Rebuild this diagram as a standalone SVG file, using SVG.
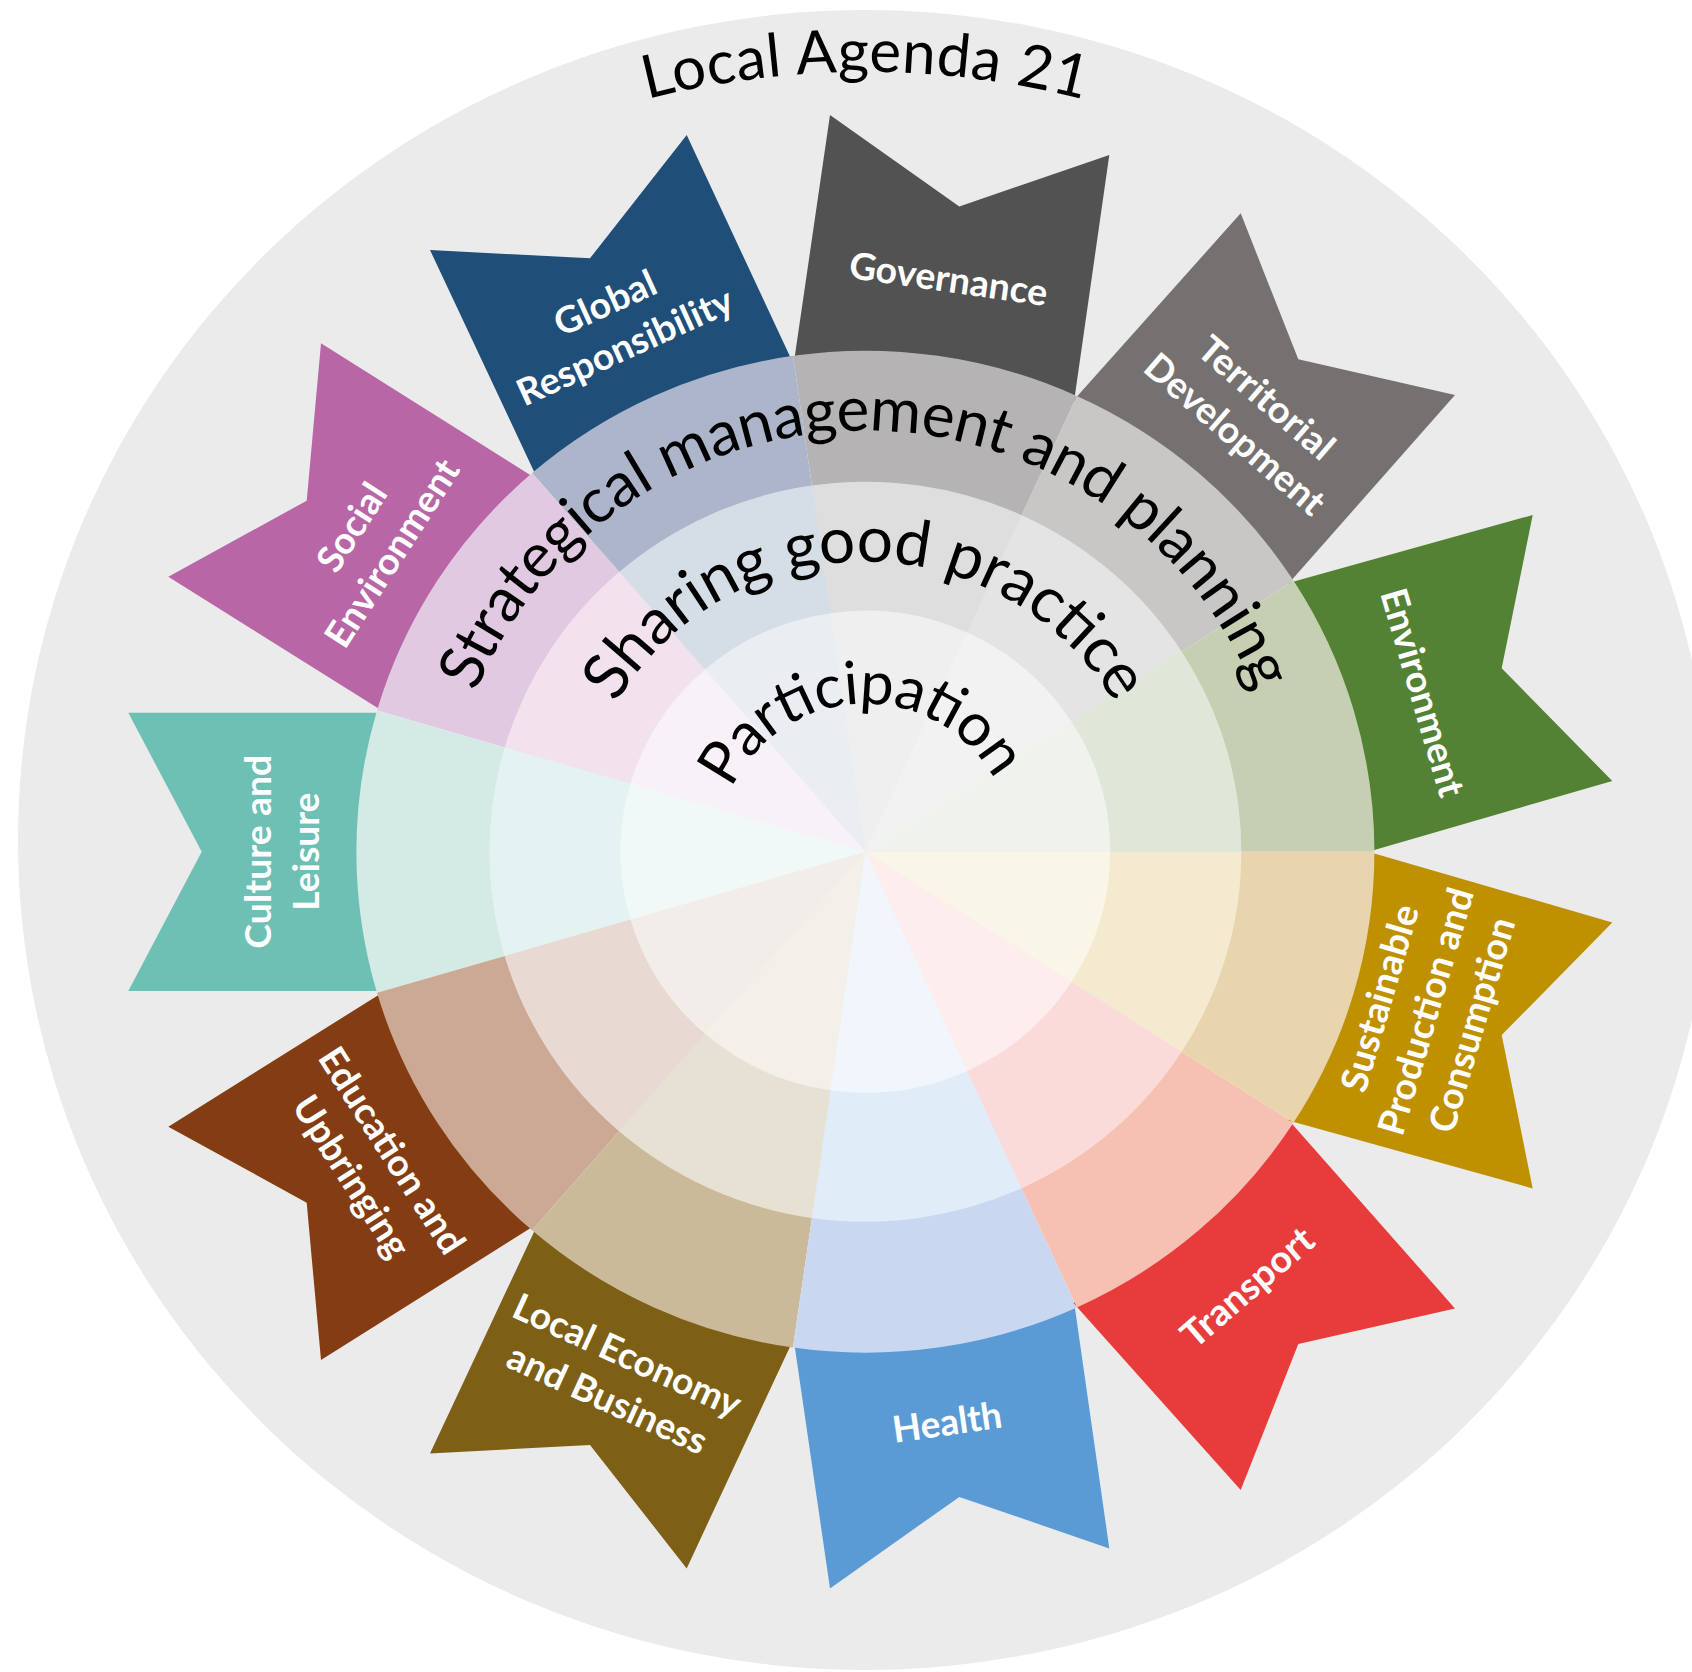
<svg xmlns="http://www.w3.org/2000/svg" width="1692" height="1672" viewBox="0 0 1692 1672">
<style>
.lbl{font-family:Lato,"Open Sans",sans-serif;font-weight:700;fill:#fff;font-size:37px;text-anchor:middle}
.ring{font-family:Lato,"Open Sans",sans-serif;fill:#000;text-anchor:middle}
.m{fill-opacity:.19}
.i{fill-opacity:.095}
</style>
<defs>
<path id="arcTitle" d="M -22.6,960 A 888,888 0 0 1 1753.4,960"/>
<path id="arcS" d="M 444.4,851.7 A 421,421 0 0 1 1286.4,851.7"/>
<path id="arcG" d="M 575.4,851.7 A 290,290 0 0 1 1155.4,851.7"/>
<path id="arcP" d="M 717.4,851.7 A 148,148 0 0 1 1013.4,851.7"/>
</defs>
<rect width="1692" height="1672" fill="#fff"/>
<g id="background">
<ellipse cx="865" cy="840" rx="847" ry="830" fill="#ebebeb"/>
<ellipse cx="865.4" cy="851.7" rx="509" ry="501" fill="#fff"/>
</g>
<g id="connectors"/>

<g id="environment">
<path d="M1532.7,515 L1501.7,668.3 L1612.3,781 L1369.2,851.4 A509,501 0 0 0 1288.5,583 Z" fill="#548235"/>
<g transform="translate(865.4 851.7) scale(1.016 1)">
<path d="M501,0 A501,501 0 0 0 421.47,-270.86 L311.26,-200.04 A370,370 0 0 1 370,0 Z" fill="#c5cfb2"/>
<path class="m" d="M370,0 A370,370 0 0 0 311.26,-200.04 L202.74,-130.29 A241,241 0 0 1 241,0 Z" fill="#548235"/>
<path class="i" d="M0,0 L241,0 A241,241 0 0 0 202.74,-130.29 Z" fill="#548235"/>
</g>
<g transform="translate(1421.7 692.7) rotate(73.64)"><text class="lbl" y="12" textLength="215" lengthAdjust="spacingAndGlyphs">Environment</text></g>
</g>

<g id="territorial-development">
<path d="M1240.7,213.3 L1298.3,359.3 L1455,395 L1288.4,583.7 A509,501 0 0 0 1073.4,400.4 Z" fill="#767171"/>
<g transform="translate(865.4 851.7) scale(1.016 1)">
<path d="M421.47,-270.86 A501,501 0 0 0 208.13,-455.72 L153.71,-336.56 A370,370 0 0 1 311.26,-200.04 Z" fill="#c8c7c6"/>
<path class="m" d="M311.26,-200.04 A370,370 0 0 0 153.71,-336.56 L100.12,-219.22 A241,241 0 0 1 202.74,-130.29 Z" fill="#767171"/>
<path class="i" d="M0,0 L202.74,-130.29 A241,241 0 0 0 100.12,-219.22 Z" fill="#767171"/>
</g>
<g transform="translate(1250 416.7) rotate(40.9)"><text class="lbl" y="-12" textLength="167" lengthAdjust="spacingAndGlyphs">Territorial</text><text class="lbl" y="36" textLength="225" lengthAdjust="spacingAndGlyphs">Development</text></g>
</g>

<g id="governance">
<path d="M830,115 L959.3,206.5 L1109.3,155 L1074.3,399.8 A509,501 0 0 0 794.3,359.8 Z" fill="#525252"/>
<g transform="translate(865.4 851.7) scale(1.016 1)">
<path d="M208.13,-455.72 A501,501 0 0 0 -71.3,-495.9 L-52.65,-366.23 A370,370 0 0 1 153.71,-336.56 Z" fill="#b5b3b3"/>
<path class="m" d="M153.71,-336.56 A370,370 0 0 0 -52.65,-366.23 L-34.3,-238.55 A241,241 0 0 1 100.12,-219.22 Z" fill="#525252"/>
<path class="i" d="M0,0 L100.12,-219.22 A241,241 0 0 0 -34.3,-238.55 Z" fill="#525252"/>
</g>
<g transform="translate(948.3 280) rotate(8.18)"><text class="lbl" y="12" textLength="200" lengthAdjust="spacingAndGlyphs">Governance</text></g>
</g>

<g id="global-responsibility">
<path d="M430,250 L590,258.3 L686.7,135 L792.1,361.1 A509,501 0 0 0 535.4,474.4 Z" fill="#1f4e79"/>
<g transform="translate(865.4 851.7) scale(1.016 1)">
<path d="M-71.3,-495.9 A501,501 0 0 0 -328.08,-378.63 L-242.3,-279.63 A370,370 0 0 1 -52.65,-366.23 Z" fill="#adb5cb"/>
<path class="m" d="M-52.65,-366.23 A370,370 0 0 0 -242.3,-279.63 L-157.82,-182.14 A241,241 0 0 1 -34.3,-238.55 Z" fill="#1f4e79"/>
<path class="i" d="M0,0 L-34.3,-238.55 A241,241 0 0 0 -157.82,-182.14 Z" fill="#1f4e79"/>
</g>
<g transform="translate(615.3 325.7) rotate(-24.55)"><text class="lbl" y="-12" textLength="108" lengthAdjust="spacingAndGlyphs">Global</text><text class="lbl" y="36" textLength="233" lengthAdjust="spacingAndGlyphs">Responsibility</text></g>
</g>

<g id="social-environment">
<path d="M168.3,576.7 L306.7,500.7 L321,343.3 L534.2,477.6 A509,501 0 0 0 382.5,710.9 Z" fill="#b866a6"/>
<g transform="translate(865.4 851.7) scale(1.016 1)">
<path d="M-328.08,-378.63 A501,501 0 0 0 -480.7,-141.15 L-355.01,-104.24 A370,370 0 0 1 -242.3,-279.63 Z" fill="#e2c9e2"/>
<path class="m" d="M-242.3,-279.63 A370,370 0 0 0 -355.01,-104.24 L-231.24,-67.9 A241,241 0 0 1 -157.82,-182.14 Z" fill="#b866a6"/>
<path class="i" d="M0,0 L-157.82,-182.14 A241,241 0 0 0 -231.24,-67.9 Z" fill="#b866a6"/>
</g>
<g transform="translate(372.7 540.7) rotate(-57.27)"><text class="lbl" y="-12" textLength="97" lengthAdjust="spacingAndGlyphs">Social</text><text class="lbl" y="36" textLength="215" lengthAdjust="spacingAndGlyphs">Environment</text></g>
</g>

<g id="culture-and-leisure">
<path d="M128.3,712.7 L201.7,851.7 L128.3,991 L381.5,991 A509,501 0 0 1 381.5,712.7 Z" fill="#6dc0b3"/>
<g transform="translate(865.4 851.7) scale(1.016 1)">
<path d="M-480.7,-141.15 A501,501 0 0 0 -480.7,141.15 L-355.01,104.24 A370,370 0 0 1 -355.01,-104.24 Z" fill="#d4ebe5"/>
<path class="m" d="M-355.01,-104.24 A370,370 0 0 0 -355.01,104.24 L-231.24,67.9 A241,241 0 0 1 -231.24,-67.9 Z" fill="#6dc0b3"/>
<path class="i" d="M0,0 L-231.24,-67.9 A241,241 0 0 0 -231.24,67.9 Z" fill="#6dc0b3"/>
</g>
<g transform="translate(282.5 851.7) rotate(-90)"><text class="lbl" y="-12" textLength="194" lengthAdjust="spacingAndGlyphs">Culture and</text><text class="lbl" y="36" textLength="118" lengthAdjust="spacingAndGlyphs">Leisure</text></g>
</g>

<g id="education-and-upbringing">
<path d="M168.3,1126.7 L306.7,1202.7 L321,1360.1 L534.2,1225.8 A509,501 0 0 1 382.5,992.5 Z" fill="#843c12"/>
<g transform="translate(865.4 851.7) scale(1.016 1)">
<path d="M-480.7,141.15 A501,501 0 0 0 -328.08,378.63 L-242.3,279.63 A370,370 0 0 1 -355.01,104.24 Z" fill="#cca994"/>
<path class="m" d="M-355.01,104.24 A370,370 0 0 0 -242.3,279.63 L-157.82,182.14 A241,241 0 0 1 -231.24,67.9 Z" fill="#843c12"/>
<path class="i" d="M0,0 L-231.24,67.9 A241,241 0 0 0 -157.82,182.14 Z" fill="#843c12"/>
</g>
<g transform="translate(371 1164) rotate(57.27)"><text class="lbl" y="-12" textLength="237" lengthAdjust="spacingAndGlyphs">Education and</text><text class="lbl" y="36" textLength="184" lengthAdjust="spacingAndGlyphs">Upbringing</text></g>
</g>

<g id="local-economy-and-business">
<path d="M430,1453.4 L590,1445.1 L686.7,1568.4 L792.1,1342.3 A509,501 0 0 1 535.4,1229 Z" fill="#7d5f16"/>
<g transform="translate(865.4 851.7) scale(1.016 1)">
<path d="M-328.08,378.63 A501,501 0 0 0 -71.3,495.9 L-52.65,366.23 A370,370 0 0 1 -242.3,279.63 Z" fill="#cbba99"/>
<path class="m" d="M-242.3,279.63 A370,370 0 0 0 -52.65,366.23 L-34.3,238.55 A241,241 0 0 1 -157.82,182.14 Z" fill="#7d5f16"/>
<path class="i" d="M0,0 L-157.82,182.14 A241,241 0 0 0 -34.3,238.55 Z" fill="#7d5f16"/>
</g>
<g transform="translate(617 1378) rotate(24.55)"><text class="lbl" y="-12" textLength="246" lengthAdjust="spacingAndGlyphs">Local Economy</text><text class="lbl" y="36" textLength="215" lengthAdjust="spacingAndGlyphs">and Business</text></g>
</g>

<g id="health">
<path d="M830,1588.4 L959.3,1496.9 L1109.3,1548.4 L1074.3,1303.6 A509,501 0 0 1 794.3,1343.6 Z" fill="#5b9bd5"/>
<g transform="translate(865.4 851.7) scale(1.016 1)">
<path d="M-71.3,495.9 A501,501 0 0 0 208.13,455.72 L153.71,336.56 A370,370 0 0 1 -52.65,366.23 Z" fill="#c9d8f0"/>
<path class="m" d="M-52.65,366.23 A370,370 0 0 0 153.71,336.56 L100.12,219.22 A241,241 0 0 1 -34.3,238.55 Z" fill="#5b9bd5"/>
<path class="i" d="M0,0 L-34.3,238.55 A241,241 0 0 0 100.12,219.22 Z" fill="#5b9bd5"/>
</g>
<g transform="translate(947.3 1423.3) rotate(-8.18)"><text class="lbl" y="12" textLength="110" lengthAdjust="spacingAndGlyphs">Health</text></g>
</g>

<g id="transport">
<path d="M1240.7,1490.1 L1298.3,1344.1 L1455,1308.4 L1288.4,1119.7 A509,501 0 0 1 1073.4,1303 Z" fill="#e83b3b"/>
<g transform="translate(865.4 851.7) scale(1.016 1)">
<path d="M208.13,455.72 A501,501 0 0 0 421.47,270.86 L311.26,200.04 A370,370 0 0 1 153.71,336.56 Z" fill="#f6c1b2"/>
<path class="m" d="M153.71,336.56 A370,370 0 0 0 311.26,200.04 L202.74,130.29 A241,241 0 0 1 100.12,219.22 Z" fill="#e83b3b"/>
<path class="i" d="M0,0 L100.12,219.22 A241,241 0 0 0 202.74,130.29 Z" fill="#e83b3b"/>
</g>
<g transform="translate(1248 1288) rotate(-40.9)"><text class="lbl" y="12" textLength="162" lengthAdjust="spacingAndGlyphs">Transport</text></g>
</g>

<g id="sustainable-production-and-consumption">
<path d="M1532.7,1188.4 L1501.7,1035.1 L1612.3,922.4 L1369.2,852 A509,501 0 0 1 1288.5,1120.4 Z" fill="#bf9000"/>
<g transform="translate(865.4 851.7) scale(1.016 1)">
<path d="M421.47,270.86 A501,501 0 0 0 501,0 L370,0 A370,370 0 0 1 311.26,200.04 Z" fill="#e8d4ad"/>
<path class="m" d="M311.26,200.04 A370,370 0 0 0 370,0 L241,0 A241,241 0 0 1 202.74,130.29 Z" fill="#bf9000"/>
<path class="i" d="M0,0 L202.74,130.29 A241,241 0 0 0 241,0 Z" fill="#bf9000"/>
</g>
<g transform="translate(1426.7 1011.7) rotate(-73.64)"><text class="lbl" y="-36" textLength="193" lengthAdjust="spacingAndGlyphs">Sustainable</text><text class="lbl" y="12" textLength="255" lengthAdjust="spacingAndGlyphs">Production and</text><text class="lbl" y="60" textLength="222" lengthAdjust="spacingAndGlyphs">Consumption</text></g>
</g>

<g id="ring-labels">
<text class="ring" font-size="60"><textPath href="#arcTitle" startOffset="50%" textLength="441">Local Agenda 21</textPath></text>
<text class="ring" font-size="62"><textPath href="#arcS" startOffset="50%" textLength="995">Strategical management and planning</textPath></text>
<text class="ring" font-size="64"><textPath href="#arcG" startOffset="50%" textLength="600">Sharing good practice</textPath></text>
<text class="ring" font-size="60" transform="rotate(-2 865.4 851.7)"><textPath href="#arcP" startOffset="50%" textLength="325">Participation</textPath></text>
</g>
</svg>
